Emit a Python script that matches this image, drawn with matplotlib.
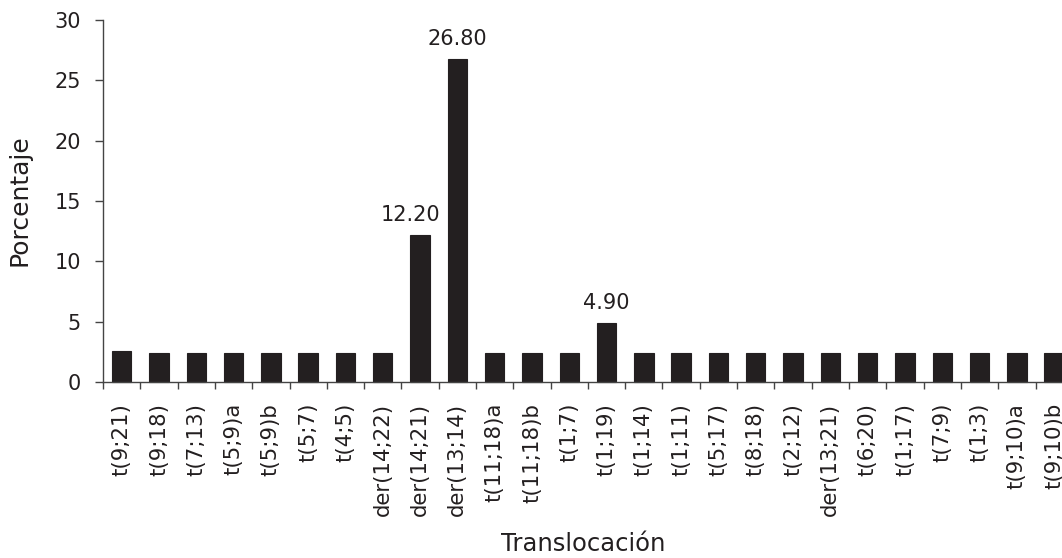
import matplotlib
matplotlib.use("Agg")
import matplotlib.pyplot as plt
import numpy as np

categories = ["t(9;21)", "t(9;18)", "t(7;13)", "t(5;9)a", "t(5;9)b", "t(5;7)", "t(4;5)",
              "der(14;22)", "der(14;21)", "der(13;14)", "t(11;18)a", "t(11;18)b", "t(1;7)",
              "t(1;19)", "t(1;14)", "t(1;11)", "t(5;17)", "t(8;18)", "t(2;12)", "der(13;21)",
              "t(6;20)", "t(1;17)", "t(7;9)", "t(1;3)", "t(9;10)a", "t(9;10)b"]
values = [2.6, 2.44, 2.44, 2.44, 2.44, 2.44, 2.44, 2.44, 12.2, 26.8, 2.44, 2.44, 2.44,
          4.9, 2.44, 2.44, 2.44, 2.44, 2.44, 2.44, 2.44, 2.44, 2.44, 2.44, 2.44, 2.44]
labelled = {"der(14;21)": "12.20", "der(13;14)": "26.80", "t(1;19)": "4.90"}
yticks = [0, 5, 10, 15, 20, 25, 30]

W, H = 1062, 558
fig = plt.figure(figsize=(W / 100, H / 100), dpi=100)
left, right = 103 / W, (103 + 26 * 37.3) / W
bottom, top = 1 - 382 / H, 1 - 20 / H
ax = fig.add_axes([left, bottom, right - left, top - bottom])

bar_color = "#231f20"
font = "DejaVu Sans"
x = np.arange(len(categories))
ax.bar(x, values, width=0.52, color=bar_color, edgecolor=bar_color, linewidth=0.8, clip_on=False)

for xi, cat, v in zip(x, categories, values):
    if cat in labelled:
        shift = -0.25 if cat == "der(14;21)" else 0.0
        ax.text(xi + shift, v + 0.8, labelled[cat], ha="center", va="bottom",
                fontsize=15, family=font, color=bar_color)

ax.set_xlim(-0.5, len(categories) - 0.5)
ax.set_ylim(0, 30)
ax.set_yticks(yticks)
ax.set_yticklabels([str(t) for t in yticks], fontsize=15, family=font, color=bar_color)

ax.set_xticks(np.arange(len(categories) + 1) - 0.5)
ax.set_xticklabels([])
ax.set_xticks(x, minor=True)
ax.set_xticklabels(categories, minor=True, rotation=90, fontsize=15.3,
                   family=font, color=bar_color)
ax.tick_params(axis="x", which="minor", length=0, pad=15)
ax.tick_params(axis="x", which="major", length=5, width=1, color="#444444", direction="out")
ax.tick_params(axis="y", length=6, width=1, color="#444444", direction="out", pad=10)

for s in ["top", "right"]:
    ax.spines[s].set_visible(False)
for s in ["left", "bottom"]:
    ax.spines[s].set_color("#444444")
    ax.spines[s].set_linewidth(1)

fig.text(19 / W, 1 - 200 / H, "Porcentaje", rotation=90, ha="center", va="center",
         fontsize=18, family=font, color=bar_color)
fig.text(583 / W, 1 - 544 / H, "Translocación", ha="center", va="center",
         fontsize=17.5, family=font, color=bar_color)

fig.savefig("out.png", dpi=100)
